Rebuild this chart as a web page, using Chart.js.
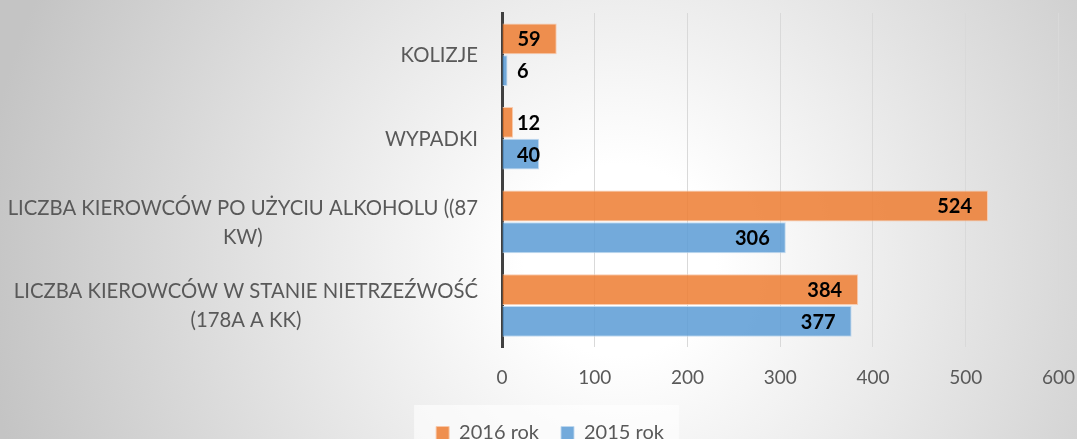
<!DOCTYPE html>
<html>
<head>
<meta charset="utf-8">
<script src="https://cdn.jsdelivr.net/npm/chart.js@4.4.1/dist/chart.umd.min.js"></script>
<style>
  html, body { margin: 0; padding: 0; overflow: hidden; background: #fff; }
  #wrap { width: 1077px; height: 458px; position: relative; }
</style>
</head>
<body>
<div id="wrap"><canvas id="wykres"></canvas></div>
<script>
// --- DANE ---
const kategorie = [
  ['KOLIZJE'],
  ['WYPADKI'],
  ['LICZBA KIEROWCÓW PO UŻYCIU ALKOHOLU ((87', 'KW)'],
  ['LICZBA KIEROWCÓW W STANIE NIETRZEŹWOŚĆ', '(178A A KK)']
];
const rok2016 = [59, 12, 524, 384];
const rok2015 = [6, 40, 306, 377];
const nazwySerii = ['2016 rok', '2015 rok'];
const osXmin = 0, osXmax = 600, osXkrok = 100;

const SZARY = '#595959';
const FONT = 'Lato, "Open Sans", sans-serif';

// tło: szary gradient radialny + jaśniejsze pole pod legendą
const tloWykresu = {
  id: 'tloWykresu',
  beforeDraw(chart) {
    const ctx = chart.ctx;
    const w = chart.width, h = chart.height;
    const g = ctx.createRadialGradient(620, 260, 0, 620, 260, 640);
    g.addColorStop(0, '#ffffff');
    g.addColorStop(0.15, '#ffffff');
    g.addColorStop(1, '#c4c4c4');
    ctx.save();
    ctx.fillStyle = g;
    ctx.fillRect(0, 0, w, h);
    const lg = chart.legend;
    if (lg && lg.legendHitBoxes && lg.legendHitBoxes.length) {
      const hb = lg.legendHitBoxes;
      const x0 = hb[0].left - 22;
      const x1 = hb[hb.length - 1].left + hb[hb.length - 1].width + 15;
      ctx.fillStyle = 'rgba(255,255,255,0.6)';
      ctx.fillRect(x0, hb[0].top - 18, x1 - x0, h);
    }
    ctx.restore();
  },
  afterLayout(chart) {
    // legenda przesunięta jak w oryginale
    const lg = chart.legend;
    if (lg) {
      lg.left += 14; lg.right += 14;
      lg.top -= 5; lg.bottom -= 5;
    }
  }
};

// etykiety kategorii: każdy blok wyrównany do prawej, linie wyśrodkowane
const etykietyY = {
  id: 'etykietyY',
  afterDraw(chart) {
    const ctx = chart.ctx;
    const sy = chart.scales.y;
    ctx.save();
    ctx.font = '20.3px ' + FONT;
    ctx.fillStyle = SZARY;
    ctx.textAlign = 'center';
    ctx.textBaseline = 'middle';
    const prawa = 478, linia = 29;
    kategorie.forEach((linie, i) => {
      const y = sy.getPixelForTick(i);
      const szer = Math.max(...linie.map(t => ctx.measureText(t).width));
      const srodek = prawa - szer / 2;
      const y0 = y + 1 - (linie.length - 1) * linia / 2;
      linie.forEach((t, k) => ctx.fillText(t, srodek, y0 + k * linia));
    });
    ctx.restore();
  }
};

// wartości na słupkach
const wartosci = {
  id: 'wartosci',
  afterDatasetsDraw(chart) {
    const ctx = chart.ctx;
    const x0 = chart.scales.x.getPixelForValue(0);
    ctx.save();
    ctx.font = 'bold 20px ' + FONT;
    ctx.fillStyle = '#000';
    ctx.textAlign = 'left';
    ctx.textBaseline = 'middle';
    chart.data.datasets.forEach((ds, di) => {
      chart.getDatasetMeta(di).data.forEach((bar, i) => {
        const txt = String(ds.data[i]);
        const w = ctx.measureText(txt).width;
        const lewa = Math.max(x0 + 15, bar.x - 16 - w);
        ctx.fillText(txt, lewa, bar.y + 1);
      });
    });
    ctx.restore();
  }
};

new Chart(document.getElementById('wykres'), {
  type: 'bar',
  data: {
    labels: kategorie,
    datasets: [
      {
        label: nazwySerii[0],
        data: rok2016,
        backgroundColor: 'rgba(237,125,49,0.85)',
        borderColor: 'rgba(248,200,168,0.9)',
        borderWidth: 1
      },
      {
        label: nazwySerii[1],
        data: rok2015,
        backgroundColor: 'rgba(91,155,213,0.85)',
        borderColor: 'rgba(190,215,238,0.9)',
        borderWidth: 1
      }
    ]
  },
  options: {
    indexAxis: 'y',
    responsive: true,
    maintainAspectRatio: false,
    animation: false,
    categoryPercentage: 0.76,
    barPercentage: 0.97,
    layout: { padding: { top: 13, left: 0, right: 5, bottom: 0 } },
    plugins: {
      legend: {
        position: 'bottom',
        labels: {
          font: { family: FONT, size: 20 },
          color: SZARY,
          boxWidth: 13,
          boxHeight: 13,
          padding: 22
        }
      },
      tooltip: { enabled: false }
    },
    scales: {
      x: {
        min: osXmin,
        max: osXmax,
        ticks: {
          stepSize: osXkrok,
          color: SZARY,
          font: { family: FONT, size: 19 },
          padding: 2
        },
        grid: { color: '#d9d9d9', drawTicks: true, tickLength: 17, tickColor: 'rgba(0,0,0,0)' },
        border: { display: false },
        afterFit(scale) { scale.height += 15; }
      },
      y: {
        ticks: { display: false },
        grid: { display: false },
        border: { color: '#404040', width: 3 },
        afterFit(scale) { scale.width = 502; }
      }
    }
  },
  plugins: [tloWykresu, etykietyY, wartosci]
});
</script>
</body>
</html>
